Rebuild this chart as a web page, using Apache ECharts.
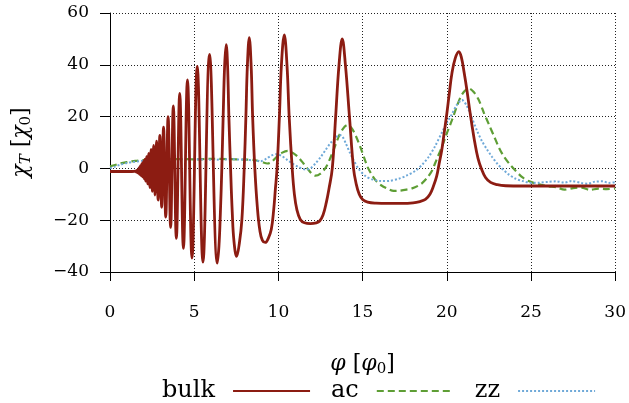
<!DOCTYPE html>
<html>
<head>
<meta charset="utf-8">
<script src="https://cdn.jsdelivr.net/npm/echarts@6/dist/echarts.min.js"></script>
<style>
  html, body { margin: 0; padding: 0; background: #fff; }
  #chart { width: 629px; height: 403px; }
</style>
</head>
<body>
<div id="chart"></div>
<script>
// Flux axis ticks and limits
const phiTicks = [0, 5, 10, 15, 20, 25, 30];
const chiTicks = [-40, -20, 0, 20, 40, 60];

// bulk susceptibility
const bulkPhi = [
  0, 0.5, 1.0, 1.3, 1.45, 1.53, 1.56, 1.59, 1.62, 1.656, 1.69, 1.725, 1.76, 1.80, 1.84,
  1.88, 1.93, 1.97, 2.02, 2.07, 2.12, 2.18, 2.24, 2.30, 2.37, 2.44, 2.51, 2.59, 2.67, 2.76,
  2.86, 2.96, 3.07, 3.18, 3.31, 3.45, 3.60, 3.76, 3.94, 4.14, 4.36, 4.60, 4.87, 5.18, 5.52,
  5.91, 6.37, 6.47, 6.55, 6.64, 6.72, 6.81, 6.90, 6.98, 7.06, 7.16, 7.26, 7.36, 7.52, 7.68,
  7.83, 7.97, 8.07, 8.16, 8.27, 8.38, 8.47, 8.60, 8.75, 8.90, 9.05, 9.22, 9.40, 9.58, 9.72,
  9.82, 9.92, 10.06, 10.18, 10.35, 10.51, 10.64, 10.82, 10.95, 11.10, 11.30, 11.55, 11.90, 12.25,
  12.45, 12.65, 12.85, 13.00, 13.20, 13.40, 13.60, 13.79, 13.98, 14.22, 14.46, 14.62, 14.80, 15.00,
  15.30, 15.80, 16.50, 17.30, 18.00, 18.40, 18.73, 19.00, 19.20, 19.40, 19.55, 19.70, 19.85, 20.00,
  20.15, 20.30, 20.50, 20.72, 20.88, 21.03, 21.20, 21.35, 21.50, 21.65, 21.85, 22.05, 22.30, 22.60,
  23.00, 23.50, 24.50, 26.00, 28.00, 30.00
];
const bulkChi = [
  -1.2, -1.2, -1.2, -1.2, -1.15, -0.95, -1.4, -0.8, -1.6, -0.5, -1.9, 0.3, -2.3, 1.0, -2.8,
  1.8, -3.3, 2.6, -4.0, 3.5, -4.9, 4.5, -6.0, 5.8, -7.4, 7.3, -8.9, 8.9, -10.3, 10.5,
  -12.2, 12.7, -15.0, 15.9, -18.8, 20.0, -22.8, 24.1, -27.0, 29.0, -30.9, 34.2, -34.6, 39.4, -36.2,
  44.0, -36.6, -30, -18, 0, 20, 40, 47.8, 40, 20, 0, -17, -28, -34.0, -29,
  -20, 0, 20, 40, 50.5, 40, 20, 0, -15, -24, -27.8, -28.6, -27, -23.5, -16,
  -8, 0, 20, 40, 51.5, 40, 20, 0, -10, -16, -19.7, -21, -21.3, -21,
  -20.3, -18, -13, -8, 0, 20, 40, 50.0, 40, 20, 0, -6, -10, -12,
  -13, -13.4, -13.5, -13.5, -13.3, -12.8, -12, -10, -7, -3, 2, 7, 14, 21,
  29, 36.5, 42.5, 45.1, 42.5, 37, 30, 23, 16.5, 10.5, 4, 0, -3.5, -5.4,
  -6.3, -6.7, -6.8, -6.8, -6.8, -6.8
];

// armchair edge
const acPhi = [
  0, 0.3, 0.6, 1.0, 1.5, 2.0, 3.0, 4.0, 5.0, 6.0, 7.0, 8.0, 8.6, 9.0, 9.35,
  9.6, 9.9, 10.2, 10.55, 10.9, 11.2, 11.5, 11.72, 11.95, 12.2, 12.5, 12.8, 13.05, 13.3, 13.55,
  13.8, 14.09, 14.35, 14.6, 14.88, 15.1, 15.3, 15.55, 15.8, 16.1, 16.4, 16.85, 17.2, 17.6, 17.94,
  18.3, 18.55, 18.85, 19.12, 19.4, 19.72, 20.0, 20.3, 20.6, 20.9, 21.3, 21.6, 21.9, 22.2, 22.5,
  22.8, 23.1, 23.4, 23.75, 24.1, 24.5, 24.9, 25.3, 25.6, 26.0, 26.5, 27.0, 27.5, 28.0, 28.5,
  29.0, 29.5, 30.0
];
const acChi = [
  0.8, 1.3, 1.9, 2.4, 2.9, 3.2, 3.5, 3.6, 3.5, 3.7, 3.6, 3.4, 3.2, 2.5, 1.9,
  2.5, 4.5, 6.0, 6.8, 5.8, 4.2, 1.8, 0, -1.8, -2.8, -2.0, 0.2, 3.5, 7.5, 11.8,
  15.0, 16.7, 15.5, 12.5, 8.0, 4.0, 0.5, -2.5, -4.8, -6.5, -7.6, -8.7, -8.6, -8.2, -7.7,
  -6.7, -5.6, -3.5, -0.9, 3.5, 8.5, 13.5, 18.5, 24.0, 28.5, 30.9, 29.5, 26.4, 21.5, 17.0,
  12.5, 8.0, 4.5, 1.5, -1.0, -3.5, -5.0, -5.9, -6.3, -6.9, -7.3, -8.2, -7.6, -7.4, -8.3,
  -7.8, -8.0, -7.8
];

// zigzag edge
const zzPhi = [
  0, 0.3, 0.6, 1.0, 1.5, 2.0, 3.0, 4.0, 5.0, 6.0, 7.0, 8.0, 8.6, 8.95, 9.3,
  9.6, 9.9, 10.2, 10.5, 10.83, 11.2, 11.62, 11.9, 12.2, 12.5, 12.8, 13.1, 13.4, 13.62, 13.8,
  14.0, 14.25, 14.48, 14.8, 15.18, 15.6, 16.16, 16.6, 17.15, 17.6, 18.14, 18.55, 18.93, 19.3, 19.72,
  20.0, 20.31, 20.6, 20.9, 21.2, 21.49, 21.8, 22.09, 22.4, 22.68, 23.0, 23.27, 23.65, 24.06, 24.5,
  25.05, 25.5, 26.0, 26.5, 27.0, 27.4, 28.0, 28.4, 28.8, 29.3, 29.6, 30.0
];
const zzChi = [
  0.0, 0.7, 1.4, 2.1, 2.6, 3.0, 3.3, 3.5, 3.5, 3.3, 3.5, 3.4, 3.0, 2.8, 3.8,
  5.0, 5.5, 4.8, 3.4, 1.9, 0.5, -0.4, 0.0, 1.9, 4.3, 7.1, 9.8, 11.8, 12.9, 12.3,
  9.7, 6.0, 3.0, -0.5, -3.0, -4.3, -4.9, -4.8, -4.0, -2.8, -0.9, 1.5, 4.5, 8.5, 14.0,
  17.5, 21.0, 24.5, 26.4, 24.0, 19.5, 14.5, 10.5, 7.2, 4.5, 1.8, 0.0, -2.2, -3.9, -4.9,
  -5.6, -5.5, -5.2, -5.0, -5.5, -4.9, -5.6, -5.9, -5.1, -5.0, -5.6, -5.3
];

const pairs = (xs, ys) => xs.map((x, i) => [x, ys[i]]);

const serif = 'DejaVu Serif';
const gridLine = { color: '#222', width: 1, type: [1, 2] };

const nameRich = {
  i: { fontFamily: serif, fontStyle: 'italic', fontSize: 22, lineHeight: 26, color: '#000' },
  s: { fontFamily: serif, fontSize: 15, lineHeight: 12, verticalAlign: 'bottom', color: '#000' },
  si: { fontFamily: serif, fontStyle: 'italic', fontSize: 15, lineHeight: 12, verticalAlign: 'bottom', color: '#000' }
};

const chart = echarts.init(document.getElementById('chart'), null, { renderer: 'canvas' });

chart.setOption({
  animation: false,
  backgroundColor: '#fff',
  grid: { left: 110, right: 12, top: 13, bottom: 131 },
  xAxis: {
    type: 'value',
    min: phiTicks[0],
    max: phiTicks[phiTicks.length - 1],
    interval: phiTicks[1] - phiTicks[0],
    name: '{i|φ} [{i|φ}{s|0}]',
    nameLocation: 'middle',
    nameGap: 79,
    nameTextStyle: { fontFamily: serif, fontSize: 22, color: '#000', lineHeight: 26, rich: nameRich },
    axisLine: { show: true, onZero: false, lineStyle: { color: '#000', width: 1 } },
    axisTick: { show: true, inside: false, length: 9, lineStyle: { color: '#000' } },
    axisLabel: { fontFamily: serif, fontSize: 17, color: '#000', margin: 32 },
    splitLine: { show: true, lineStyle: gridLine }
  },
  yAxis: {
    type: 'value',
    min: chiTicks[0],
    max: chiTicks[chiTicks.length - 1],
    interval: chiTicks[1] - chiTicks[0],
    name: '{i|χ}{si|T} [{i|χ}{s|0}]',
    nameLocation: 'middle',
    nameGap: 76,
    nameTextStyle: { fontFamily: serif, fontSize: 22, color: '#000', lineHeight: 26, rich: nameRich },
    axisLine: { show: true, onZero: false, lineStyle: { color: '#000', width: 1 } },
    axisTick: { show: true, inside: false, length: 10, lineStyle: { color: '#000' } },
    axisLabel: {
      fontFamily: serif, fontSize: 17, color: '#000', margin: 21,
      formatter: v => (v < 0 ? '\u2212' + Math.abs(v) : String(v))
    },
    splitLine: { show: true, lineStyle: gridLine }
  },
  legend: {
    data: ['bulk', 'ac', 'zz'],
    left: 157,
    top: 374,
    align: 'right',
    itemWidth: 77,
    itemHeight: 14,
    itemGap: 20,
    itemStyle: { opacity: 0 },
    textStyle: { fontFamily: serif, fontSize: 24, color: '#000', padding: [0, 13, 0, 0] }
  },
  series: [
    {
      name: 'ac',
      type: 'line',
      data: pairs(acPhi, acChi),
      symbol: 'none',
      smooth: 0.3,
      z: 2,
      lineStyle: { color: '#5e9e35', width: 2.2, type: [7, 4] },
      itemStyle: { color: '#5e9e35' }
    },
    {
      name: 'zz',
      type: 'line',
      data: pairs(zzPhi, zzChi),
      symbol: 'none',
      smooth: 0.3,
      z: 2,
      lineStyle: { color: '#6fa9d8', width: 2, type: [2, 2] },
      itemStyle: { color: '#6fa9d8' }
    },
    {
      name: 'bulk',
      type: 'line',
      data: pairs(bulkPhi, bulkChi),
      symbol: 'none',
      smooth: 0.4,
      z: 3,
      lineStyle: { color: '#8c1c12', width: 2.8 },
      itemStyle: { color: '#8c1c12' }
    }
  ]
});
</script>
</body>
</html>
